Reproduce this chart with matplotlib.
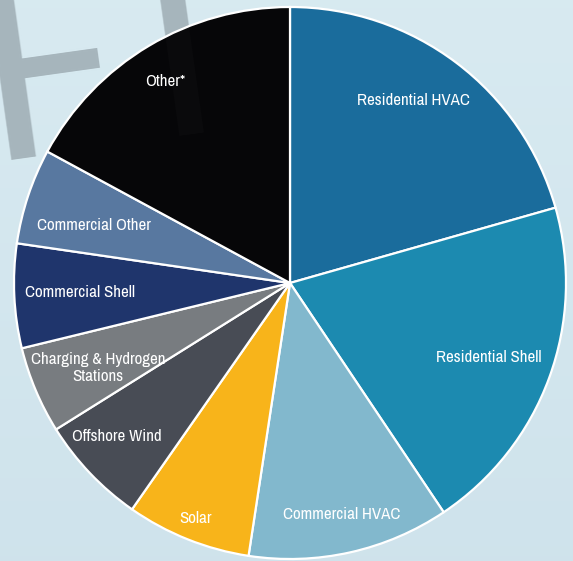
import numpy as np
import matplotlib
matplotlib.use("Agg")
import matplotlib.pyplot as plt
from matplotlib import font_manager

# slices, clockwise from 12 o'clock (share of total, %)
labels = ["Residential HVAC", "Residential Shell", "Commercial HVAC", "Solar",
          "Offshore Wind", "Charging & Hydrogen\nStations", "Commercial Shell",
          "Commercial Other", "Other*"]
shares = [20.6, 20.0, 11.8, 7.3, 6.4, 5.1, 6.1, 5.6, 17.1]
colors = ["#1a6c9c", "#1c8ab0", "#82b8cd", "#f8b41a", "#484c55",
          "#787c80", "#1f356c", "#5878a0", "#060608"]
# label placement: fraction of radius and small angle nudge (deg)
label_r = [0.80, 0.77, 0.86, 0.92, 0.84, 0.76, 0.76, 0.74, 0.86]
label_dang = [3, -0.5, 0, 0, -2, 1, 0, 2, 1]

# pick a narrow font if one is installed
narrow = [f.name for f in font_manager.fontManager.ttflist
          if "Narrow" in f.name or "Condensed" in f.name]
lab_font = [narrow[0]] if narrow else []
lab_font += ["DejaVu Sans"]
lab_size = 12.2 if narrow else 9.5

W, H = 573, 561
fig = plt.figure(figsize=(W / 100, H / 100), dpi=100)

# background gradient
bg = fig.add_axes([0, 0, 1, 1])
grad = np.linspace(0, 1, 256).reshape(-1, 1)
top = np.array([0.847, 0.918, 0.945])
bot = np.array([0.812, 0.890, 0.925])
img = top[None, None, :] * (1 - grad[:, :, None]) + bot[None, None, :] * grad[:, :, None]
bg.imshow(img, aspect="auto", extent=[0, 1, 0, 1])
bg.set_xlim(0, 1); bg.set_ylim(0, 1)
bg.axis("off")

# faint watermark letters behind the pie
wm = dict(fontsize=185, family="Lato", rotation=8, ha="left", va="baseline",
          rotation_mode="anchor")
wm_pos = [("F", -0.021, 0.715), ("I", 0.271, 0.757)]
for ch, x, y in wm_pos:
    bg.text(x, y, ch, color="#a5b4bb", zorder=2, **wm)

# pie: center (290, 283) px, radius 276 px
cx, cy, R = 290, 283, 276
ax = fig.add_axes([(cx - R) / W, (H - cy - R) / H, 2 * R / W, 2 * R / H])
wedges, texts = ax.pie(shares, colors=colors, startangle=90, counterclock=False,
                       labels=labels, radius=1,
                       wedgeprops=dict(edgecolor="white", linewidth=1.6),
                       textprops=dict(color="white", fontsize=lab_size,
                                      family=lab_font, stretch="condensed"))
for w, t, r, da in zip(wedges, texts, label_r, label_dang):
    ang = np.deg2rad((w.theta1 + w.theta2) / 2 + da)
    t.set_position((r * np.cos(ang), r * np.sin(ang)))
    t.set_ha("center"); t.set_va("center")
    t.set_multialignment("center")
    t.set_linespacing(1.15)
ax.set_xlim(-1, 1)
ax.set_ylim(-1, 1)
ax.axis("off")

# the watermark shows very faintly through the dark slice
ov = fig.add_axes([0, 0, 1, 1], facecolor="none")
ov.set_xlim(0, 1); ov.set_ylim(0, 1)
ov.axis("off")
for ch, x, y in wm_pos:
    ov.text(x, y, ch, color="white", alpha=0.025, **wm)

fig.savefig("out.png", dpi=100)
